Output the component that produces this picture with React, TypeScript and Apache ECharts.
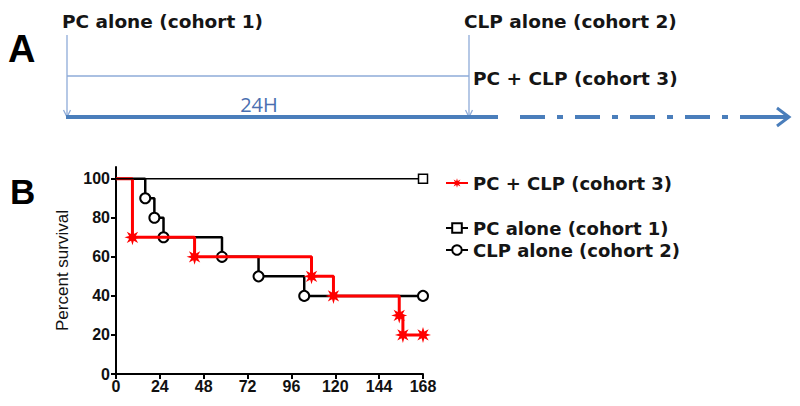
import React, { useEffect, useRef } from "react";
import * as echarts from "echarts";

// ---- data ----
const xTicks = [0, 24, 48, 72, 96, 120, 144, 168];
const yTicks = [0, 20, 40, 60, 80, 100];

const c1Name = "PC alone (cohort 1)";
const c1Time = [0, 168];
const c1Surv = [100, 100];

const c2Name = "CLP alone (cohort 2)";
const c2Time = [0, 16, 21, 26, 58, 78, 103, 168];
const c2Surv = [100, 90, 80, 70, 60, 50, 40, 40];

const c3Name = "PC + CLP (cohort 3)";
const c3Time = [0, 9, 43, 107, 119, 155, 157, 168];
const c3Surv = [100, 70, 60, 50, 40, 30, 20, 20];

const timelineLabel = "24H";

const STAR =
  "path://M20 10 L14.16 11.72 L17.07 17.07 L11.72 14.16 L10 20 L8.28 14.16 L2.93 17.07 L5.84 11.72 L0 10 L5.84 8.28 L2.93 2.93 L8.28 5.84 L10 0 L11.72 5.84 L17.07 2.93 L14.16 8.28 Z";

const toData = (t: number[], s: number[]) =>
  t.map((x, i) => (i === 0 ? { value: [x, s[i]], symbol: "none" } : { value: [x, s[i]] }));

const FONT = "'DejaVu Sans', sans-serif";
const AXFONT = "'Liberation Sans', Arial, sans-serif";
const THIN = "#8eabd8";
const THICK = "#4a7ebb";

export default function App() {
  const ref = useRef<HTMLDivElement>(null);
  useEffect(() => {
    if (!ref.current) return;
    const chart = echarts.init(ref.current, null, { renderer: "svg" });
    const labelText = (text: string, x: number, y: number) => ({
      type: "text",
      x,
      y,
      style: {
        text,
        font: `bold 18.5px ${FONT}`,
        fill: "#151515",
        textVerticalAlign: "middle",
      },
    });
    const legendBase = {
      orient: "horizontal",
      left: 445,
      padding: 0,
      itemWidth: 22,
      itemHeight: 12,
      itemGap: 5,
      selectedMode: false,
      textStyle: { fontFamily: FONT, fontWeight: "bold", fontSize: 18, color: "#151515", lineHeight: 20 },
    };
    chart.setOption({
      animation: false,
      backgroundColor: "#fff",
      grid: { left: 116, right: 377, top: 167, bottom: 32 },
      xAxis: {
        type: "value",
        min: 0,
        max: 168,
        interval: 24,
        axisLine: { lineStyle: { color: "#000", width: 2 } },
        axisTick: { show: true, length: 5, lineStyle: { color: "#000", width: 2 }, customValues: xTicks },
        axisLabel: {
          color: "#111",
          fontWeight: "bold",
          fontSize: 16,
          fontFamily: AXFONT,
          margin: 4,
          customValues: xTicks,
        },
        splitLine: { show: false },
      },
      yAxis: {
        type: "value",
        min: 0,
        max: 106,
        name: "Percent survival",
        nameLocation: "middle",
        nameGap: 45,
        nameTextStyle: { fontSize: 17, color: "#111", fontFamily: AXFONT },
        axisLine: { show: true, lineStyle: { color: "#000", width: 2 } },
        axisTick: { show: true, length: 5, lineStyle: { color: "#000", width: 2 }, customValues: yTicks },
        axisLabel: {
          color: "#111",
          fontWeight: "bold",
          fontSize: 16,
          fontFamily: AXFONT,
          margin: 6,
          customValues: yTicks,
        },
        splitLine: { show: false },
      },
      legend: [
        { ...legendBase, top: 173, data: [c3Name] },
        { ...legendBase, top: 218, data: [c1Name] },
        { ...legendBase, top: 240, data: [c2Name] },
      ],
      series: [
        {
          name: c2Name,
          type: "line",
          step: "end",
          data: toData(c2Time, c2Surv),
          symbol: "circle",
          symbolSize: 10,
          showAllSymbol: true,
          lineStyle: { color: "#000", width: 2.5 },
          itemStyle: { color: "#fff", borderColor: "#000", borderWidth: 2 },
          z: 2,
        },
        {
          name: c3Name,
          type: "line",
          step: "end",
          data: toData(c3Time, c3Surv),
          symbol: STAR,
          symbolSize: 16,
          showAllSymbol: true,
          lineStyle: { color: "#ff0000", width: 3 },
          itemStyle: { color: "#ff0000" },
          z: 3,
        },
        {
          name: c1Name,
          type: "line",
          step: "end",
          data: toData(c1Time, c1Surv),
          symbol: "rect",
          symbolSize: 9,
          showAllSymbol: true,
          lineStyle: { color: "#000", width: 1.5 },
          itemStyle: { color: "#fff", borderColor: "#000", borderWidth: 1.5 },
          z: 4,
        },
      ],
      graphic: [
        // Panel letters
        { type: "text", x: 8, y: 49, style: { text: "A", font: `bold 38px ${AXFONT}`, fill: "#000", textVerticalAlign: "middle" } },
        { type: "text", x: 10, y: 191, style: { text: "B", font: `bold 35px ${AXFONT}`, fill: "#000", textVerticalAlign: "middle" } },
        // Panel A labels
        labelText(c1Name, 62, 21),
        labelText(c2Name, 464, 21),
        labelText(c3Name, 473, 78),
        {
          type: "text",
          x: 259,
          y: 104,
          style: { text: timelineLabel, font: `20px 'Open Sans', sans-serif`, fill: "#4a6fb0", textAlign: "center", textVerticalAlign: "middle" },
        },
        // thin lines
        { type: "line", shape: { x1: 67, y1: 35, x2: 67, y2: 116 }, style: { stroke: THIN, lineWidth: 1.3 } },
        { type: "polyline", shape: { points: [[63.5, 110], [67, 117], [70.5, 110]] }, style: { stroke: THIN, lineWidth: 1.3, fill: "none" } },
        { type: "line", shape: { x1: 67, y1: 76, x2: 469, y2: 76 }, style: { stroke: THIN, lineWidth: 1.3 } },
        { type: "line", shape: { x1: 469, y1: 35, x2: 469, y2: 116 }, style: { stroke: THIN, lineWidth: 1.3 } },
        { type: "polyline", shape: { points: [[465.5, 110], [469, 117], [472.5, 110]] }, style: { stroke: THIN, lineWidth: 1.3, fill: "none" } },
        // thick timeline
        { type: "line", shape: { x1: 66, y1: 117, x2: 498, y2: 117 }, style: { stroke: THICK, lineWidth: 4 } },
        { type: "line", shape: { x1: 520, y1: 117, x2: 729, y2: 117 }, style: { stroke: THICK, lineWidth: 4, lineDash: [25, 12, 6, 12] } },
        { type: "line", shape: { x1: 740, y1: 117, x2: 788, y2: 117 }, style: { stroke: THICK, lineWidth: 4 } },
        { type: "polyline", shape: { points: [[777, 108], [789, 117], [777, 126]] }, style: { stroke: THICK, lineWidth: 3, fill: "none" } },
      ],
    });
    return () => chart.dispose();
  }, []);
  return (
    <div
      ref={ref}
      style={{ position: "fixed", left: 0, top: 0, width: 800, height: 406, background: "#fff" }}
    />
  );
}
